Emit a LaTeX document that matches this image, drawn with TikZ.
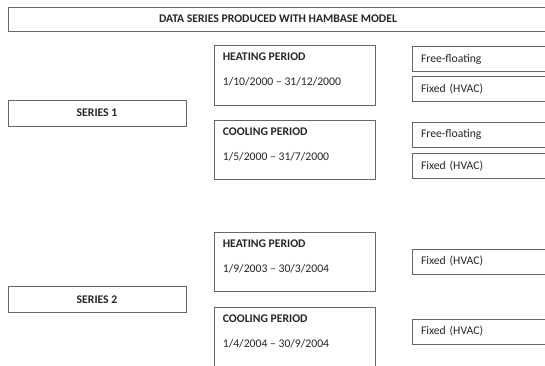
\documentclass[tikz,border=0pt]{standalone}
\usepackage{fontspec}
\setmainfont{Carlito}
\usetikzlibrary{positioning}
\tikzset{
	box/.style={draw=black!60, line width=0.7pt, inner sep=0pt, text=black!85, font=\fontsize{11.7}{13}\selectfont},
	headbox/.style={box, font=\fontsize{11.7}{13}\selectfont\bfseries},
	seriesbox/.style={headbox, minimum width=178pt, minimum height=26pt},
	periodbox/.style={box, minimum width=161pt, minimum height=60pt},
	modebox/.style={box, minimum width=138pt, minimum height=25pt, text width=120pt, align=left, inner xsep=9pt},
	periodtext/.style={anchor=west, inner sep=0pt, text=black!85, font=\fontsize{11.7}{13}\selectfont},
	periodhead/.style={periodtext, font=\fontsize{11.7}{13}\selectfont\bfseries},
}
\begin{document}
\begin{tikzpicture}[x={(1pt,0)}, y={(0,-1pt)}]
		%%%%% START %%%%%
		\useasboundingbox (0, 0) rectangle (545, 365);
		\clip (0, 0) rectangle (545, 365);
		\fill[white] (0, 0) rectangle (545, 365);
		
		\node[headbox, minimum width=540pt, minimum height=24pt] (title) at (278, 19) {DATA SERIES PRODUCED WITH HAMBASE MODEL};
		
		\node[seriesbox] (series1) at (97, 113) {SERIES 1};
		\node[seriesbox] (series2) at (97, 299.5) {SERIES 2};
		
		\node[periodbox] (heat1) at (294.5, 75) {};
		\node[periodhead] (heat1h) at ([xshift=9pt, yshift=-12pt]heat1.north west) {HEATING PERIOD};
		\node[periodtext] (heat1d) at ([xshift=9pt, yshift=-37pt]heat1.north west) {1/10/2000 -- 31/12/2000};
		
		\node[periodbox, minimum height=59pt] (cool1) at (294.5, 149.5) {};
		\node[periodhead] (cool1h) at ([xshift=9pt, yshift=-12pt]cool1.north west) {COOLING PERIOD};
		\node[periodtext] (cool1d) at ([xshift=9pt, yshift=-37pt]cool1.north west) {1/5/2000 -- 31/7/2000};
		
		\node[periodbox, minimum height=59pt] (heat2) at (294.5, 261.5) {};
		\node[periodhead] (heat2h) at ([xshift=9pt, yshift=-12pt]heat2.north west) {HEATING PERIOD};
		\node[periodtext] (heat2d) at ([xshift=9pt, yshift=-37pt]heat2.north west) {1/9/2003 -- 30/3/2004};
		
		\node[periodbox] (cool2) at (294.5, 337) {};
		\node[periodhead] (cool2h) at ([xshift=9pt, yshift=-12pt]cool2.north west) {COOLING PERIOD};
		\node[periodtext] (cool2d) at ([xshift=9pt, yshift=-37pt]cool2.north west) {1/4/2004 -- 30/9/2004};
		
		\node[modebox] (free1) at (481, 59) {Free-floating};
		\node[modebox] (fixed1) at (481, 89) {Fixed (HVAC)};
		\node[modebox] (free2) at (481, 134.5) {Free-floating};
		\node[modebox] (fixed2) at (481, 166) {Fixed (HVAC)};
		
		\node[modebox] (fixed3) at (481, 261.5) {Fixed (HVAC)};
		\node[modebox] (fixed4) at (481, 331.5) {Fixed (HVAC)};
		%%%%% END %%%%%
	\end{tikzpicture}
\end{document}
